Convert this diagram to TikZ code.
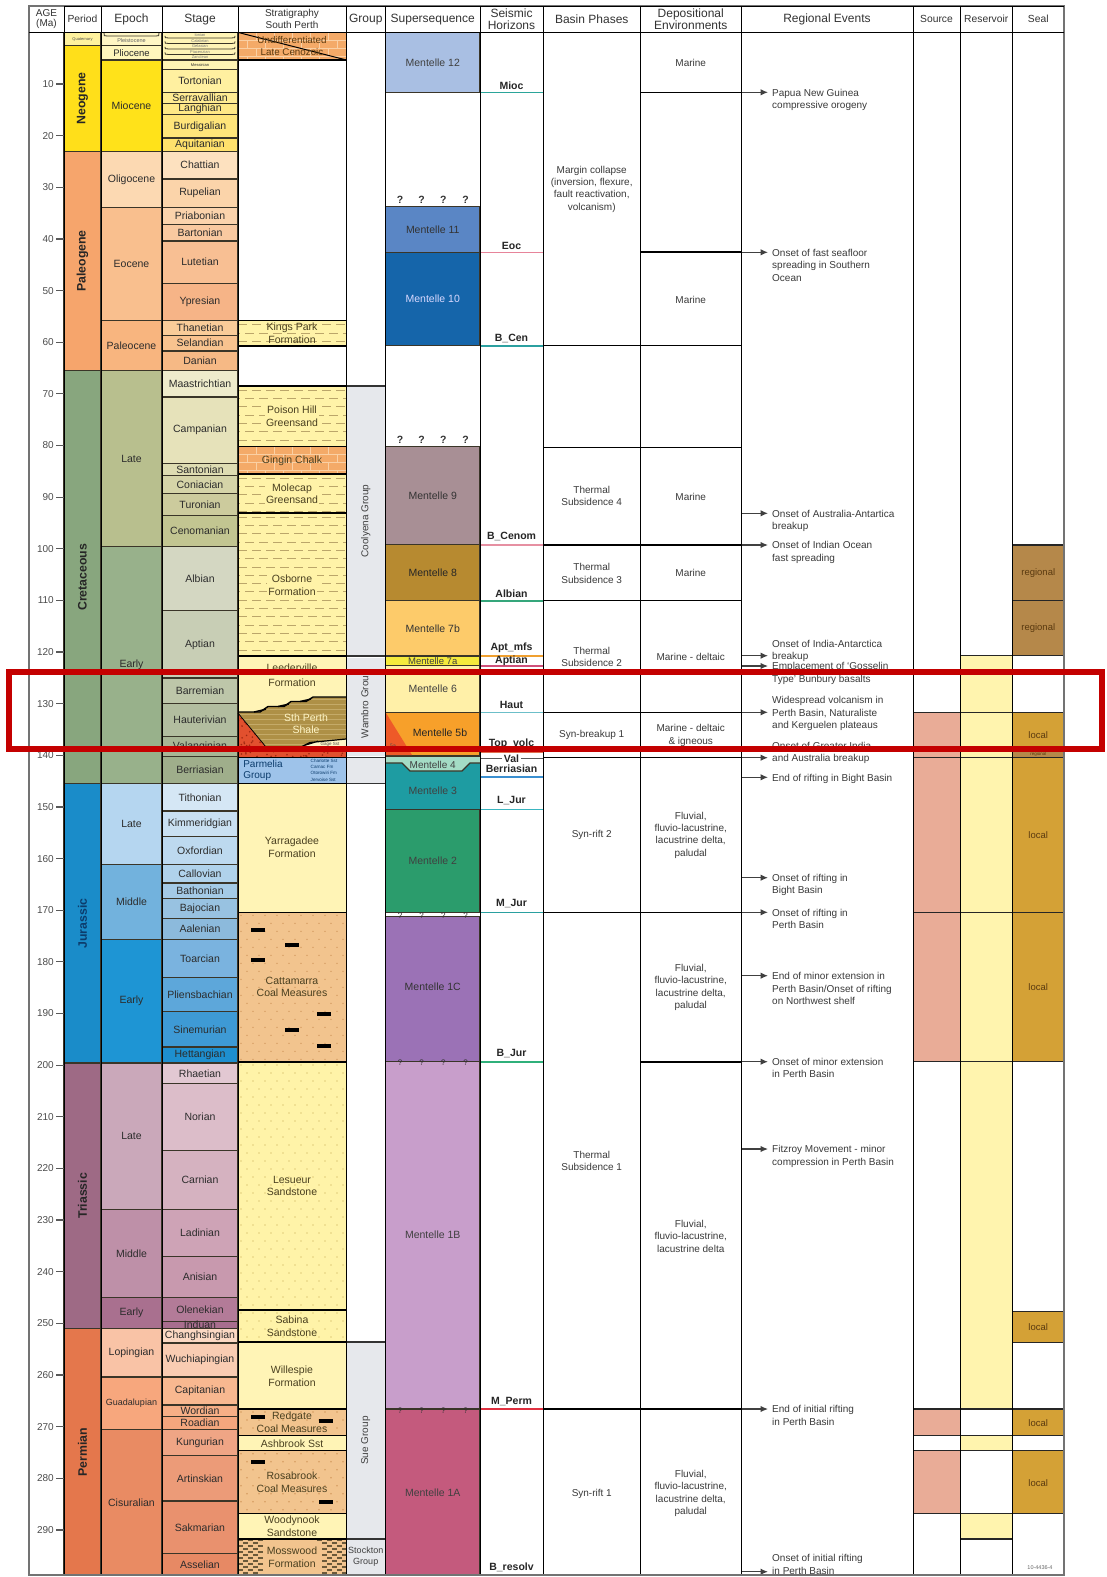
\documentclass[tikz,border=0pt]{standalone}
\usepackage{fontspec}
\setmainfont{Liberation Sans}
\usetikzlibrary{arrows.meta}
\pgfmathdeclarefunction{ma}{1}{\pgfmathparse{32.36+5.164*#1}}
\newcounter{nd}
\definecolor{bdr}{HTML}{3A3528}
\definecolor{txt}{HTML}{2C2C2C}
\definecolor{gtxt}{HTML}{3A3A3A}
\definecolor{stxt}{HTML}{4A4020}
\definecolor{dashc}{HTML}{BBA66A}
\definecolor{brickc}{HTML}{FAD0A4}
\definecolor{orng}{HTML}{F4AA68}
\definecolor{ylw}{HTML}{FFF3A8}
\definecolor{pyl}{HTML}{FFF4B6}
\definecolor{tanc}{HTML}{F2C48E}
\definecolor{tandot}{HTML}{D49C60}
\definecolor{yldot}{HTML}{E2CE7C}
\definecolor{grp}{HTML}{E6E8EC}
\definecolor{srcc}{HTML}{E9AC97}
\definecolor{resc}{HTML}{FFF4AE}
\definecolor{regc}{HTML}{B5884A}
\definecolor{locc}{HTML}{D4A136}
\definecolor{sealtx}{HTML}{5A3A10}
\definecolor{redbox}{HTML}{C40000}
\definecolor{parm}{HTML}{9EC3EA}
\definecolor{shale}{HTML}{AE9046}
\definecolor{shalel}{HTML}{C4AA68}
\definecolor{volc}{HTML}{E2502E}
\definecolor{vdot}{HTML}{A02810}
\definecolor{gage}{HTML}{FFF6C8}
\definecolor{mossd}{HTML}{6B5A3A}
\definecolor{jtx}{HTML}{0C3C6C}
\definecolor{m12}{HTML}{A9BFE3}
\definecolor{m11}{HTML}{5A86C5}
\definecolor{m10}{HTML}{1565AA}
\definecolor{m9}{HTML}{A88F95}
\definecolor{m8}{HTML}{B78A30}
\definecolor{m7b}{HTML}{FDCB6A}
\definecolor{m7a}{HTML}{F5EA3C}
\definecolor{m6}{HTML}{FFF0A8}
\definecolor{m5b}{HTML}{F7A02A}
\definecolor{m5a}{HTML}{EE5A28}
\definecolor{m4}{HTML}{A4DCC5}
\definecolor{m3}{HTML}{1E9CA2}
\definecolor{m2}{HTML}{2B9C6C}
\definecolor{m1c}{HTML}{9B72B6}
\definecolor{m1b}{HTML}{C89ECB}
\definecolor{m1a}{HTML}{C45A7D}
\tikzset{
 stg/.style={inner sep=0pt,text=txt,font=\fontsize{10.5}{12}\selectfont},
 per/.style={inner sep=0pt,rotate=90,text=black!85,font=\fontsize{12.3}{14}\selectfont\bfseries},
 strt/.style={inner sep=0pt,align=center,text=stxt,font=\fontsize{10.5}{12.6}\selectfont},
 ssl/.style={inner sep=0pt,font=\fontsize{10.5}{12}\selectfont},
 shz/.style={inner sep=0pt,text=black!85,font=\fontsize{10.5}{12}\selectfont\bfseries},
 bp/.style={inner sep=0pt,align=center,text=gtxt,font=\fontsize{10}{12.3}\selectfont},
 evtxt/.style={inner sep=0pt,align=left,text=gtxt,font=\fontsize{10}{12.4}\selectfont},
 evarr/.style={draw=black!75,line width=1.2pt,-{Latex[length=7.5pt,width=6.5pt]}},
 hl/.style={draw=black,line width=1.3pt},
 sl/.style={draw=black!85,line width=1.5pt},
 hdr/.style={inner sep=0pt,align=center,text=black!80,font=\fontsize{12}{11.3}\selectfont},
 hdrs/.style={inner sep=0pt,align=center,text=black!80,font=\fontsize{10.3}{11}\selectfont},
 sealt/.style={inner sep=0pt,text=sealtx,font=\fontsize{9.5}{11}\selectfont},
 grpt/.style={inner sep=0pt,rotate=90,text=black!75,font=\fontsize{10}{12}\selectfont},
 agel/.style={inner sep=0pt,text=black!70,font=\fontsize{10}{12}\selectfont},
 qm/.style={inner sep=0pt,text=black!80,font=\fontsize{10.5}{12}\selectfont\bfseries},
 qs/.style={inner sep=0pt,text=black!80,font=\fontsize{8}{9}\selectfont},
 tinyt/.style={inner sep=0pt,text=black!55,font=\fontsize{4}{4.5}\selectfont},
}
\newcommand\gb[6]{\edef\tmpdef{\noexpand\definecolor{tmpc}{HTML}{#5}}\tmpdef%
 \filldraw[fill=tmpc,draw=bdr,line width=1.3pt] (#1,{ma(#3)}) rectangle (#2,{ma(#4)});%
 \stepcounter{nd}%
 \node[stg] (n\arabic{nd}) at ({(#1+#2)/2},{ma((#3+#4)/2)}) {#6};}
\newcommand\dashpat[4]{%
 \begin{scope}
 \clip (#1,#2) rectangle (#3,#4);
 \pgfmathtruncatemacro\nr{(#4-#2)/8.3+1}
 \foreach \k in {0,...,\nr}{%
  \pgfmathsetmacro\yy{#2+4.2+\k*8.3}
  \pgfmathsetmacro\ph{mod(\k,2)*7}
  \draw[dashc,line width=1pt,dash pattern=on 9pt off 5pt,dash phase=\ph pt] (#1,\yy) -- (#3,\yy);
 }
 \end{scope}}
\newcommand\brickpat[4]{%
 \begin{scope}
 \clip (#1,#2) rectangle (#3,#4);
 \pgfmathtruncatemacro\nr{(#4-#2)/8+1}
 \foreach \k in {0,...,\nr}{%
  \pgfmathsetmacro\yy{#2+\k*8}
  \pgfmathsetmacro\xo{#1+mod(\k,2)*9}
  \draw[brickc,line width=0.8pt] (#1,\yy) -- (#3,\yy);
  \foreach \j in {0,...,6}{\draw[brickc,line width=0.8pt] ({\xo+\j*18},\yy) -- ({\xo+\j*18},{\yy+8});}
 }
 \end{scope}}
\newcommand\dotpat[5]{%
 \begin{scope}
 \clip (#1,#2) rectangle (#3,#4);
 \pgfmathtruncatemacro\nr{(#4-#2)/8+1}
 \foreach \k in {0,...,\nr}{%
  \pgfmathsetmacro\yy{#2+3+\k*8}
  \pgfmathsetmacro\xo{#1+3+mod(\k,2)*6}
  \foreach \j in {0,...,8}{\fill[#5] ({\xo+\j*12},\yy) circle[radius=0.8pt];}
 }
 \end{scope}}
\newcommand\evt[4]{%
 \coordinate (#1a) at (741,#2);
 \coordinate (#1b) at (768,#2);
 \node[evtxt,anchor=north west] (#1) at (772,#3-3.7) {#4};
 \draw[evarr] (#1a) -- (#1b);}
\begin{document}
\begin{tikzpicture}[x=1pt,y=-1pt]
\useasboundingbox (0,0) rectangle (1106,1577);
\fill[white] (0,0) rectangle (1106,1577);

% ---------------- periods
\foreach \t/\b/\c in {0/2.588/FFF29E, 2.588/23.03/FFDF1A, 23.03/65.5/F6A56C, 65.5/145.5/88A67E, 145.5/199.6/1A8CC9, 199.6/251/9E6A85, 251/298.8/E4774C}{\gb{64}{101}{\t}{\b}{\c}{}}
\node[tinyt,text=black!70] (pQua) at (82.5,{ma(1.3)}) {Quaternary};
\node[per] (pNeo) at (82.5,{ma(12.81)}) {Neogene};
\node[per] (pPal) at (82.5,{ma(44.27)}) {Paleogene};
\node[per] (pCre) at (82.5,{ma(105.5)}) {Cretaceous};
\node[per,text=jtx] (pJur) at (82.5,{ma(172.55)}) {Jurassic};
\node[per] (pTri) at (82.5,{ma(225.3)}) {Triassic};
\node[per] (pPer) at (82.5,{ma(275)}) {Permian};

% ---------------- epochs
\gb{101}{162}{0}{2.588}{FFF6C4}{}
\draw[bdr,line width=0.8pt] (104,33) .. controls (104,36) .. (107,36) -- (156,36) .. controls (159,36) .. (159,33);
\node[tinyt,font=\fontsize{5.5}{6}\selectfont,text=black!60] (ePle) at (131.5,41) {Pleistocene};
\gb{101}{162}{2.588}{5.332}{FFF6BC}{\fontsize{9.5}{10}\selectfont Pliocene}
\foreach \t/\b/\c/\n in {5.332/23.03/FFE21A/Miocene, 23.03/33.9/FCD9B2/Oligocene, 33.9/55.8/F9BF8E/Eocene, 55.8/65.5/F8B57F/Paleocene, 65.5/99.6/B8BF8E/Late, 99.6/145.5/98B18B/Early, 145.5/161.2/B5D6F0/Late, 161.2/175.6/72B2DD/Middle, 175.6/199.6/1E95D4/Early, 199.6/228/CAA8BA/Late, 228/245/BE90A8/Middle, 245/251/A9708F/Early, 251/260.4/F9C3A6/Lopingian, 260.4/270.6/F7A77D/{\fontsize{9}{10}\selectfont Guadalupian}, 270.6/298.8/E98B63/Cisuralian}{\gb{101}{162}{\t}{\b}{\c}{\n}}

% ---------------- stages
\fill[pyl] (162,32.4) rectangle (238,59.9);
\foreach \yy in {37.9,43.4,48.9,54.4}{\draw[bdr,line width=0.8pt] (165,\yy-2) .. controls (165,\yy) .. (168,\yy) -- (232,\yy) .. controls (235,\yy) .. (235,\yy-2);}
\node[tinyt] (st1) at (200,35.2) {Ionian};
\node[tinyt] (st2) at (200,40.7) {Calabrian};
\node[tinyt] (st3) at (200,46.2) {Gelasian};
\node[tinyt] (st4) at (200,51.7) {Piacenzian};
\node[tinyt] (st5) at (200,57.2) {Zanclean};
\draw[bdr,line width=1.3pt] (162,32.4) rectangle (238,59.9);
\gb{162}{238}{5.332}{7.246}{FFF4B4}{\fontsize{4}{4.5}\selectfont Messinian}
\foreach \t/\b/\c/\n in {
7.246/11.608/FFF0A0/Tortonian,
11.608/13.82/FFEB92/Serravallian,
13.82/15.97/FFE886/Langhian,
15.97/20.43/FFE57A/Burdigalian,
20.43/23.03/FFE16C/Aquitanian,
23.03/28.4/FDE1BF/Chattian,
28.4/33.9/FBD4AA/Rupelian,
33.9/37.2/FBD3AC/Priabonian,
37.2/40.4/F9C9A0/Bartonian,
40.4/48.6/F8BF93/Lutetian,
48.6/55.8/F6B487/Ypresian,
55.8/58.7/F9CC99/Thanetian,
58.7/61.7/F8C38F/Selandian,
61.7/65.5/F6B985/Danian,
65.5/70.6/EEEBCB/Maastrichtian,
70.6/83.5/E6E2BA/Campanian,
83.5/85.8/DEDCB2/Santonian,
85.8/89.3/D5D4A8/Coniacian,
89.3/93.5/CCCB9D/Turonian,
93.5/99.6/C2C591/Cenomanian,
99.6/112/D4D7C2/Albian,
112/125/C8CEB5/Aptian,
125/130/BDC6A9/Barremian,
130/136.4/B2BD9F/Hauterivian,
136.4/140.2/A8B595/Valanginian,
140.2/145.5/9FAE8B/Berriasian,
145.5/150.8/D5E7F5/Tithonian,
150.8/155.7/C9E0F2/Kimmeridgian,
155.7/161.2/BDD9EF/Oxfordian,
161.2/164.7/B0D2EB/Callovian,
164.7/167.7/A4CAE6/Bathonian,
167.7/171.6/98C2E1/Bajocian,
171.6/175.6/8CBADC/Aalenian,
175.6/183/7AB3DF/Toarcian,
183/189.6/5DA7DA/Pliensbachian,
189.6/196.5/3E9AD5/Sinemurian,
196.5/199.6/1E8FCF/Hettangian,
199.6/203.6/E2C8D2/Rhaetian,
203.6/216.5/DCBDC9/Norian,
216.5/228/D5B2C0/Carnian,
228/237/CEA3B6/Ladinian,
237/245/C899AE/Anisian,
245/249.7/B37B98/Olenekian,
249.7/251/A86E8E/Induan,
251/253.8/FBD8C3/Changhsingian,
253.8/260.4/F9CCB2/Wuchiapingian,
260.4/265.8/F8B890/Capitanian,
265.8/268/F6AF86/Wordian,
268/270.6/F4A67D/Roadian,
270.6/275.6/EFA585/Kungurian,
275.6/284.4/EC9B78/Artinskian,
284.4/294.6/E9916E/Sakmarian,
294.6/298.8/E78964/Asselian}{\gb{162}{238}{\t}{\b}{\c}{\n}}

% ---------------- stratigraphy South Perth
\fill[orng] (238,32.4) rectangle (346,59.9);
\brickpat{238}{32.4}{346}{59.9}
\draw[black,line width=1pt] (238,32.4) -- (346,59.9);
\node[strt,text=sealtx,font=\fontsize{9.8}{12.3}\selectfont] (uLC) at (292,46.2) {Undifferentiated\\Late Cenozoic};
% Kings Park
\fill[ylw] (238,320.5) rectangle (346,346);
\dashpat{238}{320.5}{346}{346}
\node[strt] (uKP) at (292,333) {Kings Park\\Formation};
% Poison Hill
\fill[ylw] (238,386) rectangle (346,446.7);
\dashpat{238}{386}{346}{446.7}
\node[strt,fill=ylw,inner sep=1pt] (uPH) at (292,416.3) {Poison Hill\\Greensand};
% Gingin Chalk
\fill[orng] (238,446.7) rectangle (346,474);
\brickpat{238}{446.7}{346}{474}
\node[strt] (uGC) at (292,461) {Gingin Chalk};
% Molecap
\fill[ylw] (238,474) rectangle (346,513);
\dashpat{238}{474}{346}{513}
\node[strt,fill=ylw,inner sep=1pt] (uMC) at (292,493.7) {Molecap\\Greensand};
% Osborne
\fill[ylw] (238,513) rectangle (346,656);
\dashpat{238}{513}{346}{656}
\node[strt,fill=ylw,inner sep=1pt] (uOs) at (292,585) {Osborne\\Formation};
% Leederville
\fill[pyl] (238,656) rectangle (346,757.7);
\node[strt] (uLe1) at (292,667.5) {Leederville};
\node[strt] (uLe2) at (292,682.3) {Formation};
% South Perth Shale
\fill[shale] (238,712) -- (260,712) -- (268,706.5) -- (284,706.5) -- (291,701.5) -- (306,701.5) -- (313,697) -- (346,697) -- (346,739) -- (310,742.5) -- (296,749.5) -- (268,749.5) -- cycle;
\begin{scope}
\clip (238,712) -- (260,712) -- (268,706.5) -- (284,706.5) -- (291,701.5) -- (306,701.5) -- (313,697) -- (346,697) -- (346,739) -- (310,742.5) -- (296,749.5) -- (268,749.5) -- cycle;
\foreach \yy in {699,704,...,749}{\draw[shalel,line width=0.7pt] (238,\yy) -- (346,\yy);}
\end{scope}
\draw[black,line width=1.4pt] (238,712) -- (260,712) -- (268,706.5) -- (284,706.5) -- (291,701.5) -- (306,701.5) -- (313,697) -- (346,697);
\draw[black,line width=1.4pt] (254,712) -- (266,709.2) (278,706.5) -- (289,704) (300,701.5) -- (311,699);
% Gage Sst
\fill[gage] (296,749.5) -- (310,742.5) -- (346,739) -- (346,749.5) -- cycle;
\draw[black,line width=1.2pt] (296,749.5) -- (310,742.5) -- (346,739) (304,745.5) -- (318,741.2);
\node[tinyt,font=\fontsize{4.5}{5}\selectfont,text=black!70] (uGS) at (330,744.5) {Gage Sst};
% volcanics
\fill[volc] (238,713) -- (268,749.5) -- (346,749.5) -- (346,757.7) -- (238,757.7) -- cycle;
\begin{scope}
\clip (238,713) -- (268,749.5) -- (346,749.5) -- (346,757.7) -- (238,757.7) -- cycle;
\pgfmathsetseed{7}
\foreach \i in {1,...,140}{\pgfmathsetmacro\rx{238+108*rnd}\pgfmathsetmacro\ry{712+46*rnd}\fill[vdot] (\rx,\ry) circle[radius=0.9pt];}
\end{scope}
\draw[black,line width=0.8pt] (238,713) -- (268,749.5);
\node[strt,text=gage] (uSP) at (306,723.6) {Sth Perth\\Shale};
% Parmelia
\fill[parm] (238,757.7) rectangle (346,783.7);
\node[strt,text=jtx,align=left,font=\fontsize{10}{10.5}\selectfont] (uPa) at (263,770.5) {Parmelia\\Group};
\node[inner sep=0pt,align=left,text=jtx,font=\fontsize{4.6}{6.3}\selectfont] (uPm) at (324,770) {Charlotte Sst\\Carnac Fm\\Otorowiri Fm\\Jervoise Sst};
% Yarragadee
\fill[pyl] (238,783.7) rectangle (346,912.3);
\node[strt] (uYa) at (292,847) {Yarragadee\\Formation};
% Cattamarra
\fill[tanc] (238,912.3) rectangle (346,1062);
\dotpat{238}{912.3}{346}{1062}{tandot}
\node[strt] (uCa) at (292,987) {Cattamarra\\Coal Measures};
% Lesueur
\fill[ylw] (238,1062) rectangle (346,1310);
\dotpat{238}{1062}{346}{1310}{yldot}
\node[strt] (uLs) at (292,1186) {Lesueur\\Sandstone};
% Sabina
\fill[ylw] (238,1310) rectangle (346,1342);
\dotpat{238}{1310}{346}{1342}{yldot}
\node[strt] (uSa) at (292,1326) {Sabina\\Sandstone};
% Willespie
\fill[pyl] (238,1342) rectangle (346,1409);
\node[strt] (uWi) at (292,1376) {Willespie\\Formation};
% Redgate
\fill[tanc] (238,1409) rectangle (346,1435.7);
\dotpat{238}{1409}{346}{1435.7}{tandot}
\node[strt] (uRe) at (292,1422.5) {Redgate\\Coal Measures};
% Ashbrook
\fill[pyl] (238,1435.7) rectangle (346,1450.7);
\node[strt] (uAs) at (292,1443.3) {Ashbrook Sst};
% Rosabrook
\fill[tanc] (238,1450.7) rectangle (346,1513.3);
\dotpat{238}{1450.7}{346}{1513.3}{tandot}
\node[strt] (uRo) at (292,1482.5) {Rosabrook\\Coal Measures};
% Woodynook
\fill[pyl] (238,1513.3) rectangle (346,1539);
\node[strt] (uWo) at (292,1526.5) {Woodynook\\Sandstone};
% Mosswood
\fill[tanc] (238,1539) rectangle (346,1575);
\begin{scope}
\clip (238,1539) rectangle (346,1575);
\foreach \k in {0,...,12}{\pgfmathsetmacro\xo{mod(\k,2)*5}\pgfmathsetmacro\yy{1539+\k*3}
 \foreach \j in {0,...,2}{\fill[mossd] ({238+\xo+\j*10},\yy) rectangle ++(5,2.2); \fill[mossd] ({317+\xo+\j*10},\yy) rectangle ++(5,2.2);}}
\end{scope}
\fill[tanc] (263,1541) rectangle (322,1574);
\node[strt] (uMo) at (292,1557.5) {Mosswood\\Formation};
% coal bars
\foreach \cx/\cy in {258/930, 291.7/945, 258/960, 324/1013.5, 291.7/1029.6, 324/1045.7, 258/1417, 326/1420.7, 258/1461.7, 326/1502.3}{\fill[black] (\cx-7,\cy-2) rectangle (\cx+7,\cy+2);}
% unit boundaries
\foreach \yy in {59.9,320.5,346,386,446.7,474,513,656,757.7,783.7,912.3,1062,1310,1342,1409,1435.7,1450.7,1513.3,1539}{\draw[black,line width=1.4pt] (238,\yy) -- (346,\yy);}

% ---------------- groups
\fill[grp] (346,386) rectangle (385.5,656);
\fill[grp] (346,657.5) rectangle (385.5,756);
\fill[grp] (346,757.7) rectangle (385.5,783.7);
\fill[grp] (346,1342) rectangle (385.5,1539);
\fill[grp] (346,1539) rectangle (385.5,1575);
\foreach \yy in {386,656,757.7,783.7,1342,1539}{\draw[black!80,line width=1.2pt] (346,\yy) -- (385.5,\yy);}
\node[grpt] (gCo) at (365.75,521) {Coolyena Group};
\node[grpt] (gWa) at (365.75,704) {Wambro Group};
\node[grpt] (gSu) at (365.75,1440.5) {Sue Group};
\node[inner sep=0pt,align=center,text=black!75,font=\fontsize{9}{11}\selectfont] (gSt) at (365.75,1557) {Stockton\\Group};

% ---------------- supersequences
\filldraw[fill=m12,draw=bdr,line width=1.2pt] (385.5,32.4) rectangle (480,92.3);
\filldraw[fill=m11,draw=bdr,line width=1.2pt] (385.5,206.7) rectangle (480,252.3);
\filldraw[fill=m10,draw=bdr,line width=1.2pt] (385.5,252.3) rectangle (480,345.7);
\filldraw[fill=m9,draw=bdr,line width=1.2pt] (385.5,446.7) rectangle (480,544.3);
\filldraw[fill=m8,draw=bdr,line width=1.2pt] (385.5,544.3) rectangle (480,600.7);
\filldraw[fill=m7b,draw=bdr,line width=1.2pt] (385.5,600.7) rectangle (480,656);
\filldraw[fill=m7a,draw=bdr,line width=1.2pt] (385.5,656) rectangle (480,665.5);
\filldraw[fill=m6,draw=bdr,line width=1.2pt] (385.5,665.5) rectangle (480,712.3);
\filldraw[fill=m5b,draw=bdr,line width=1.2pt] (385.5,712.3) rectangle (480,755.5);
\fill[m5a] (386,713) -- (386,755) -- (412,755) -- cycle;
\fill[m3] (385.5,763) -- (402,763) -- (410,771) -- (462,771) -- (470,763) -- (480,763) -- (480,809.3) -- (385.5,809.3) -- cycle;
\fill[m4] (385.5,756.5) -- (480,756.5) -- (480,763) -- (470,763) -- (462,771) -- (410,771) -- (402,763) -- (385.5,763) -- cycle;
\draw[bdr,line width=1.2pt] (385.5,763) -- (402,763) -- (410,771) -- (462,771) -- (470,763) -- (480,763);
\draw[bdr,line width=1.2pt] (385.5,756.5) -- (480,756.5) (385.5,809.3) -- (480,809.3);
\filldraw[fill=m2,draw=bdr,line width=1.2pt] (385.5,809.3) rectangle (480,912.3);
\filldraw[fill=m1c,draw=bdr,line width=1.2pt] (385.5,916.7) rectangle (480,1061.7);
\filldraw[fill=m1b,draw=bdr,line width=1.2pt] (385.5,1061.7) rectangle (480,1409);
\filldraw[fill=m1a,draw=bdr,line width=1.2pt] (385.5,1409) rectangle (480,1575);
\node[ssl,text=black!75] (ss12) at (432.75,62.4) {Mentelle 12};
\node[ssl,text=black!80] (ss11) at (432.75,229.5) {Mentelle 11};
\node[ssl,text=blue!15] (ss10) at (432.75,299) {Mentelle 10};
\node[ssl,text=black!80] (ss9) at (432.75,495.5) {Mentelle 9};
\node[ssl,text=black!85] (ss8) at (432.75,572.5) {Mentelle 8};
\node[ssl,text=black!80] (ss7b) at (432.75,628.3) {Mentelle 7b};
\node[ssl,text=black!75,font=\fontsize{9.5}{10}\selectfont] (ss7a) at (432.75,660.7) {Mentelle 7a};
\node[ssl,text=black!75] (ss6) at (432.75,689) {Mentelle 6};
\node[ssl,text=black!85] (ss5b) at (440,733) {Mentelle 5b};
\node[tinyt,font=\fontsize{5}{5}\selectfont,text=black!70] (ss5a) at (393,746) {5a};
\node[ssl,text=black!75,font=\fontsize{10}{10}\selectfont] (ss4) at (432.75,764.8) {Mentelle 4};
\node[ssl,text=black!75] (ss3) at (432.75,790.5) {Mentelle 3};
\node[ssl,text=black!75] (ss2) at (432.75,861) {Mentelle 2};
\node[ssl,text=black!80] (ss1c) at (432.75,987) {Mentelle 1C};
\node[ssl,text=black!75] (ss1b) at (432.75,1235) {Mentelle 1B};
\node[ssl,text=black!75] (ss1a) at (432.75,1492.5) {Mentelle 1A};
\foreach \qx [count=\qi] in {400,421.7,443.3,465.7}{%
 \node[qm] (qa\qi) at (\qx,200) {?};
 \node[qm] (qb\qi) at (\qx,440) {?};
 \node[qs] (qc\qi) at (\qx,916) {?};
 \node[qs] (qd\qi) at (\qx,1063) {?};
 \node[qs] (qe\qi) at (\qx,1410.5) {?};}

% ---------------- seismic horizons
\foreach \ly/\lny/\lc/\ln in {85.7/92.3/2BA59A/Mioc, 245.7/252.3/E7849A/Eoc, 338.3/345.7/2BA0A0/B\_Cen, 536.7/545/E690A2/B\_Cenom, 593.3/600.7/35A67B/Albian, 647.7/655.7/F0A030/Apt\_mfs, 660.7/666/CF507A/Aptian, 704.7/712.3/6CBFC9/Haut, 743.3/752/E07050/Top\_volc, 768.3/776.7/3A8FD0/Berriasian, 801/809.3/3AB5C0/L\_Jur, 904/912.3/2AA0A0/M\_Jur, 1054/1061.7/2FB07A/B\_Jur, 1401.7/1409/E03040/M\_Perm, 1567.7/1575/E070A0/B\_resolv}{%
 \edef\tmpdef{\noexpand\definecolor{tmpc}{HTML}{\lc}}\tmpdef
 \draw[tmpc,line width=1.6pt] (480,\lny) -- (543,\lny);
 \stepcounter{nd}
 \node[shz] (n\arabic{nd}) at (511.5,\ly) {\ln};}
\draw[black!65,line width=1.3pt] (480,758.3) -- (543,758.3);
\node[shz,fill=white,inner xsep=2pt] (hVal) at (511.5,758.3) {Val};

% ---------------- basin phases / depositional lines
\draw[hl] (640.5,92.3) -- (741,92.3);
\draw[hl,line width=2pt] (640.5,252.3) -- (741,252.3);
\draw[hl] (543,345.7) -- (741,345.7);
\draw[hl] (543,447.3) -- (741,447.3);
\draw[hl] (543,545) -- (741,545);
\draw[hl] (543,600.7) -- (741,600.7);
\draw[hl] (543,712.3) -- (741,712.3);
\draw[hl] (543,757.7) -- (741,757.7);
\draw[hl] (543,912.3) -- (741,912.3);
\draw[hl,line width=2pt] (640.5,1061.7) -- (741,1061.7);
\draw[hl] (543,1409) -- (741,1409);
\node[bp] (b1) at (591.75,189) {Margin collapse\\(inversion, flexure,\\fault reactivation,\\volcanism)};
\node[bp] (b2) at (591.75,496) {Thermal\\Subsidence 4};
\node[bp] (b3) at (591.75,573.5) {Thermal\\Subsidence 3};
\node[bp] (b4) at (591.75,656.7) {Thermal\\Subsidence 2};
\node[bp] (b5) at (591.75,735) {Syn-breakup 1};
\node[bp] (b6) at (591.75,835) {Syn-rift 2};
\node[bp] (b7) at (591.75,1161) {Thermal\\Subsidence 1};
\node[bp] (b8) at (591.75,1494) {Syn-rift 1};
\node[bp] (d1) at (690.75,62.7) {Marine};
\node[bp] (d2) at (690.75,300) {Marine};
\node[bp] (d3) at (690.75,496.7) {Marine};
\node[bp] (d4) at (690.75,573) {Marine};
\node[bp] (d5) at (690.75,656.7) {Marine - deltaic};
\node[bp] (d6) at (690.75,735.3) {Marine - deltaic\\\& igneous};
\node[bp] (d7) at (690.75,835.2) {Fluvial,\\fluvio-lacustrine,\\lacustrine delta,\\paludal};
\node[bp] (d8) at (690.75,987.5) {Fluvial,\\fluvio-lacustrine,\\lacustrine delta,\\paludal};
\node[bp] (d9) at (690.75,1236.3) {Fluvial,\\fluvio-lacustrine,\\lacustrine delta};
\node[bp] (d10) at (690.75,1493.3) {Fluvial,\\fluvio-lacustrine,\\lacustrine delta,\\paludal};

% ---------------- regional events
\evt{e1}{92.3}{92.3}{Papua New Guinea\\compressive orogeny}
\evt{e2}{252.3}{252.7}{Onset of fast seafloor\\spreading in Southern\\Ocean}
\evt{e3}{513.3}{513.3}{Onset of Australia-Antartica\\breakup}
\evt{e4}{545}{545}{Onset of Indian Ocean\\fast spreading}
\evt{e5}{655.7}{643.5}{Onset of India-Antarctica\\breakup}
\evt{e6}{666}{666}{Emplacement of `Gosselin\\Type' Bunbury basalts}
\evt{e7}{712.3}{700}{Widespread volcanism in\\Perth Basin, Naturaliste\\and Kerguelen plateaus}
\evt{e8}{757.7}{745.3}{Onset of Greater India\\and Australia breakup}
\evt{e9}{777.3}{777.3}{End of rifting in Bight Basin}
\evt{e10}{877.7}{877.7}{Onset of rifting in\\Bight Basin}
\evt{e11}{912.3}{912.3}{Onset of rifting in\\Perth Basin}
\evt{e12}{975.7}{976}{End of minor extension in\\Perth Basin/Onset of rifting\\on Northwest shelf}
\evt{e13}{1061.7}{1061.7}{Onset of minor extension\\in Perth Basin}
\evt{e14}{1149}{1149}{Fitzroy Movement - minor\\compression in Perth Basin}
\evt{e15}{1409}{1409}{End of initial rifting\\in Perth Basin}
\evt{e16}{1571.7}{1558}{Onset of initial rifting\\in Perth Basin}

% ---------------- source / reservoir / seal
\fill[resc] (960,655.7) rectangle (1012.5,1409);
\fill[resc] (960,1435.7) rectangle (1012.5,1450.7);
\fill[resc] (960,1513.3) rectangle (1012.5,1539);
\fill[srcc] (913,712.3) rectangle (960,1061.7);
\fill[srcc] (913,1409) rectangle (960,1435.7);
\fill[srcc] (913,1450.7) rectangle (960,1513.3);
\fill[regc] (1012.5,545) rectangle (1064,655.7);
\fill[locc] (1012.5,712.3) rectangle (1064,1061.7);
\fill[regc] (1012.5,751) rectangle (1064,757.7);
\fill[locc] (1012.5,1311.7) rectangle (1064,1342.3);
\fill[locc] (1012.5,1409) rectangle (1064,1435.7);
\fill[locc] (1012.5,1450.7) rectangle (1064,1513.3);
\draw[sl] (1012.5,545) -- (1064,545) (1012.5,600.7) -- (1064,600.7) (960,655.7) -- (1064,655.7)
 (913,712.3) -- (1064,712.3) (913,751) -- (1064,751) (913,757.7) -- (1064,757.7)
 (913,912.3) -- (1064,912.3) (913,1061.7) -- (1064,1061.7) (1012.5,1311.7) -- (1064,1311.7)
 (1012.5,1342.3) -- (1064,1342.3) (913,1409) -- (1064,1409) (913,1435.7) -- (1064,1435.7)
 (913,1450.7) -- (1064,1450.7) (913,1513.3) -- (1064,1513.3) (960,1539) -- (1012.5,1539);
\node[sealt] (sr1) at (1038.25,573) {regional};
\node[sealt] (sr2) at (1038.25,628.5) {regional};
\node[tinyt,text=sealtx,font=\fontsize{4.5}{5}\selectfont] (sr3) at (1038.25,754.3) {regional};
\node[sealt] (sl1) at (1038.25,735.5) {local};
\node[sealt] (sl2) at (1038.25,835) {local};
\node[sealt] (sl3) at (1038.25,987) {local};
\node[sealt] (sl4) at (1038.25,1327) {local};
\node[sealt] (sl5) at (1038.25,1423) {local};
\node[sealt] (sl6) at (1038.25,1483) {local};
\node[inner sep=0pt,text=black!60,font=\fontsize{5.5}{6}\selectfont] (fig) at (1040,1568) {10-4436-4};

% ---------------- age axis
\foreach \a in {10,20,...,290}{%
 \draw[black!65,line width=1.2pt] (56,{ma(\a)}) -- (64,{ma(\a)});
 \node[agel,anchor=east] (age\a) at (54,{ma(\a)}) {\a};}

% ---------------- grid, frame, header
\foreach \xx in {64,101,162,238,346,385.5,480,543,640.5,741,913,960,1012.5}{\draw[black,line width=1pt] (\xx,6) -- (\xx,1575);}
\draw[black!55,line width=1.2pt] (29,6) rectangle (1064,1575);
\draw[black,line width=1pt] (64,6) -- (1064,6);
\draw[black,line width=1.3pt] (29,32.4) -- (1064,32.4);
\node[hdrs,font=\fontsize{10}{10.5}\selectfont] (hAge) at (46.5,19.2) {AGE\\(Ma)};
\node[hdrs] (hPer) at (82.5,19.2) {Period};
\node[hdr] (hEpo) at (131.5,19.2) {Epoch};
\node[hdr] (hSta) at (200,19.2) {Stage};
\node[hdrs,font=\fontsize{10}{12.3}\selectfont] (hStr) at (292,19.2) {Stratigraphy\\South Perth};
\node[hdr] (hGrp) at (365.75,19.2) {Group};
\node[hdr] (hSup) at (432.75,19.2) {Supersequence};
\node[hdr] (hSei) at (511.5,19.2) {Seismic\\Horizons};
\node[hdr] (hBas) at (591.75,19.2) {Basin Phases};
\node[hdr] (hDep) at (690.75,19.2) {Depositional\\Environments};
\node[hdr] (hReg) at (827,19.2) {Regional Events};
\node[hdrs] (hSrc) at (936.5,19.2) {Source};
\node[hdrs] (hRes) at (986.25,19.2) {Reservoir};
\node[hdrs] (hSea) at (1038.25,19.2) {Seal};

% ---------------- highlight
\draw[redbox,line width=6pt] (9,672) rectangle (1102,748.5);
\end{tikzpicture}
\end{document}
